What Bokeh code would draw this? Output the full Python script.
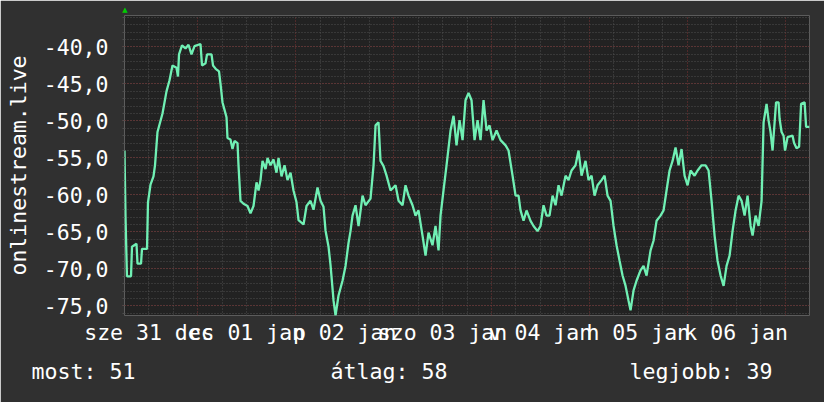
from bokeh.plotting import figure
from bokeh.models import FixedTicker, Range1d, Title, LinearAxis
from bokeh.embed import file_html
from bokeh.resources import INLINE

# ---- data (hours since Wed 31 Dec 06:00, signal value) ----
hours = [0, 0.25, 0.6, 1.6, 1.84, 2.94, 3.19, 4.05, 4.29, 5.52, 5.76, 6.38, 7.11, 7.48, 8.09,
         9.32, 10.3, 11.04, 11.77, 12.75, 13.12, 13.37, 14.1, 14.96, 15.7, 16.43, 17.17, 18.64,
         19.01, 19.87, 20.24, 21.34, 21.71, 22.44, 23.18, 23.55, 24.04, 24.53, 25.02, 25.26,
         25.99, 26.49, 26.98, 27.72, 27.96, 28.45, 29.19, 30.17, 30.9, 31.64, 32.38, 32.87,
         33.36, 33.85, 34.59, 35.08, 35.81, 36.55, 37.28, 37.78, 38.51, 39.25, 39.98, 40.72,
         41.45, 42.19, 42.68, 43.91, 44.64, 45.62, 46.36, 47.34, 48.08, 48.81, 49.3, 50.04,
         50.53, 51.27, 51.76, 52.49, 53.47, 54.21, 54.94, 55.43, 55.92, 56.66, 57.4, 58.38,
         59.11, 60.34, 61.08, 61.57, 62.3, 62.79, 63.53, 64.27, 65.25, 66.47, 67.21, 68.19,
         68.92, 69.66, 70.64, 71.38, 72.11, 73.09, 73.83, 74.56, 75.54, 76.28, 77.02, 77.51,
         78.24, 78.98, 79.96, 80.7, 81.43, 82.17, 82.91, 83.64, 84.38, 85.11, 85.85, 86.59,
         87.32, 88.06, 88.8, 89.53, 90.27, 91.25, 92.23, 93.46, 94.19, 95.17, 95.91, 96.64,
         97.13, 97.87, 98.6, 99.58, 100.32, 101.3, 102.03, 102.77, 103.51, 104.24, 104.98,
         105.72, 106.45, 107.19, 108.17, 108.9, 109.64, 110.62, 111.36, 112.09, 113.07,
         113.81, 114.55, 115.28, 116.02, 117.0, 117.74, 118.47, 119.21, 119.94, 120.68,
         121.42, 122.15, 122.89, 123.62, 124.11, 124.85, 125.58, 126.56, 127.3, 128.04,
         129.02, 129.75, 130.49, 131.47, 132.21, 132.94, 133.68, 134.42, 135.15, 135.89,
         136.62, 137.36, 138.1, 138.83, 139.81, 140.55, 141.53, 142.51, 143.25, 143.98,
         144.72, 145.45, 146.19, 146.93, 147.66, 148.4, 149.13, 149.87, 150.61, 151.34,
         152.08, 152.81, 153.55, 154.04, 154.78, 155.51, 156.25, 156.74, 157.47, 157.96,
         158.45, 158.94, 159.8, 160.41, 160.66, 161.15, 161.64, 162.0, 162.62, 163.85,
         164.22, 164.83, 165.45, 165.94, 166.8, 167.17, 168.0]
values = [-54.0, -63.0, -71.0, -71.0, -67.0, -66.6, -69.3, -69.3, -67.3, -67.3, -61.0, -58.6,
          -57.5, -56.0, -51.5, -49.0, -46.0, -44.5, -42.5, -42.8, -44.0, -41.0, -39.8, -40.2,
          -39.7, -41.0, -39.9, -39.6, -42.5, -42.2, -41.0, -41.0, -42.5, -43.0, -43.3, -45.0,
          -47.5, -48.5, -49.5, -52.3, -52.5, -53.8, -52.7, -53.0, -56.0, -60.8, -61.2, -61.5,
          -62.5, -61.5, -58.3, -59.4, -58.0, -55.4, -56.5, -55.0, -56.0, -55.2, -57.0, -55.0,
          -57.5, -56.0, -58.0, -57.0, -59.4, -61.0, -63.4, -64.0, -61.5, -60.8, -62.0, -59.0,
          -60.8, -61.6, -64.8, -67.0, -69.5, -74.3, -76.3, -73.6, -71.6, -69.6, -66.5, -64.9,
          -62.8, -61.4, -64.2, -60.1, -61.4, -60.5, -56.0, -50.6, -50.2, -55.4, -56.1, -57.4,
          -59.4, -58.7, -60.8, -61.4, -58.7, -60.1, -61.4, -62.8, -62.1, -65.5, -68.2, -65.1,
          -66.8, -64.2, -67.5, -62.8, -59.4, -56.0, -51.3, -49.3, -53.3, -49.9, -52.6, -47.2,
          -46.2, -47.2, -52.6, -49.9, -52.6, -47.2, -51.3, -50.6, -52.6, -51.3, -52.6, -53.3,
          -54.0, -57.4, -60.1, -60.1, -62.1, -63.5, -62.1, -63.5, -64.2, -64.9, -64.2, -61.4,
          -62.8, -62.8, -60.1, -61.4, -58.7, -60.1, -57.4, -58.0, -56.7, -56.0, -54.0, -57.4,
          -55.4, -58.0, -57.4, -60.1, -58.7, -58.0, -57.4, -60.1, -60.8, -64.2, -66.8, -68.9,
          -70.9, -72.3, -74.3, -75.6, -72.9, -71.6, -70.2, -69.6, -70.9, -67.5, -66.2, -63.5,
          -62.8, -62.1, -59.4, -56.7, -55.4, -53.6, -56.0, -53.8, -57.4, -58.7, -56.7, -57.4,
          -56.7, -56.0, -56.0, -56.7, -60.8, -65.5, -68.9, -70.9, -72.3, -69.6, -68.2, -64.9,
          -62.1, -60.1, -60.8, -62.8, -60.1, -64.2, -65.5, -62.8, -64.2, -60.8, -50.2, -47.7,
          -49.9, -51.5, -54.0, -47.5, -47.5, -49.7, -51.5, -52.0, -54.0, -52.2, -52.0, -53.0,
          -53.7, -53.5, -47.7, -47.5, -50.8, -50.8]

x_label_hours = [6, 30, 54, 78, 102, 126, 150]
x_labels = ["sze 31 dec", "cs 01 jan", "p 02 jan", "szo 03 jan", "v 04 jan", "h 05 jan", "k 06 jan"]
midnight_hours = [18, 42, 66, 90, 114, 138, 162]
y_major = [-75, -70, -65, -60, -55, -50, -45, -40]
y_labels = ["-75,0", "-70,0", "-65,0", "-60,0", "-55,0", "-50,0", "-45,0", "-40,0"]
y_title = "onlinestream.live"
summary_names = ["most:", "átlag:", "legjobb:"]
summary_values = [51, 58, 39]
X_START, X_END = 0, 168
Y_START, Y_END = -76.3, -35.75
UP_ARROW_X = 0.1

FONT = "DejaVu Sans Mono"
FS = "21.5px"
LINE = "#70f0b4"
RED = "#7c3232"
GRAY = "#4e4e4e"
ARROW = "#00cc00"

p = figure(width=824, height=402, output_backend="svg", toolbar_location=None,
           x_range=Range1d(X_START, X_END), y_range=Range1d(Y_START, Y_END),
           min_border_left=124, min_border_right=15, min_border_top=15, min_border_bottom=87,
           background_fill_color="#222222", border_fill_color="#303030",
           outline_line_color=None)

# grids
six_hour = [h for h in range(6, 168, 6) if h not in midnight_hours]
p.xgrid.ticker = FixedTicker(ticks=midnight_hours, minor_ticks=six_hour)
p.xgrid.grid_line_color = RED
p.xgrid.grid_line_dash = "1 2"
p.xgrid.minor_grid_line_color = GRAY
p.xgrid.minor_grid_line_dash = "1 2"

yt = FixedTicker(ticks=y_major, minor_ticks=list(range(-76, -35)))
p.yaxis.ticker = yt
p.ygrid.ticker = yt
p.ygrid.grid_line_color = RED
p.ygrid.grid_line_dash = "1 2"
p.ygrid.minor_grid_line_color = GRAY
p.ygrid.minor_grid_line_dash = "1 2"

# x axis
p.xaxis.ticker = FixedTicker(ticks=x_label_hours, minor_ticks=[])
p.xaxis.major_label_overrides = {h: t for h, t in zip(x_label_hours, x_labels)}
p.xaxis.major_tick_line_color = None
p.xaxis.minor_tick_line_color = None
p.xaxis.axis_line_color = None
p.xaxis.major_tick_out = 0
p.xaxis.major_label_standoff = 4

# y axis
p.yaxis.major_label_overrides = {v: t for v, t in zip(y_major, y_labels)}
p.yaxis.axis_label = y_title
p.yaxis.axis_line_color = None
p.yaxis.major_tick_line_color = RED
p.yaxis.minor_tick_line_color = GRAY
p.yaxis.major_tick_out = 2
p.yaxis.major_tick_in = 0
p.yaxis.minor_tick_out = 2
p.yaxis.minor_tick_in = 0
p.yaxis.major_label_standoff = 14
p.yaxis.axis_label_standoff = 10

for ax in (p.xaxis[0], p.yaxis[0]):
    ax.major_label_text_font = FONT
    ax.major_label_text_font_size = FS
    ax.major_label_text_color = "white"
    ax.axis_label_text_font = FONT
    ax.axis_label_text_font_size = FS
    ax.axis_label_text_color = "white"
    ax.axis_label_text_font_style = "normal"

p.line(hours, values, line_color=LINE, line_width=2.3)

# y-axis arrow at the top of the value axis
up_axis = LinearAxis(ticker=FixedTicker(ticks=[UP_ARROW_X], minor_ticks=[]),
                     major_label_overrides={UP_ARROW_X: "\u25b2"},
                     axis_line_color=None, major_tick_line_color=None,
                     major_tick_out=0, major_tick_in=0, major_label_standoff=2,
                     major_label_text_font="DejaVu Sans", major_label_text_font_size="7px",
                     major_label_text_color=ARROW)
p.add_layout(up_axis, "above")

# summary line (monospace, padded with no-break spaces)
NB = "\u00a0"
parts = [f"{n} {v}" for n, v in zip(summary_names, summary_values)]
summary = parts[0] + NB * (23 - len(parts[0])) + parts[1] + NB * (23 - len(parts[1])) + parts[2]
p.add_layout(Title(text=summary, align="left", offset=-93, standoff=18,
                   text_font=FONT, text_font_size="21.6px", text_color="white",
                   text_font_style="normal"), "below")

open("out.html", "w").write(file_html(p, INLINE))
